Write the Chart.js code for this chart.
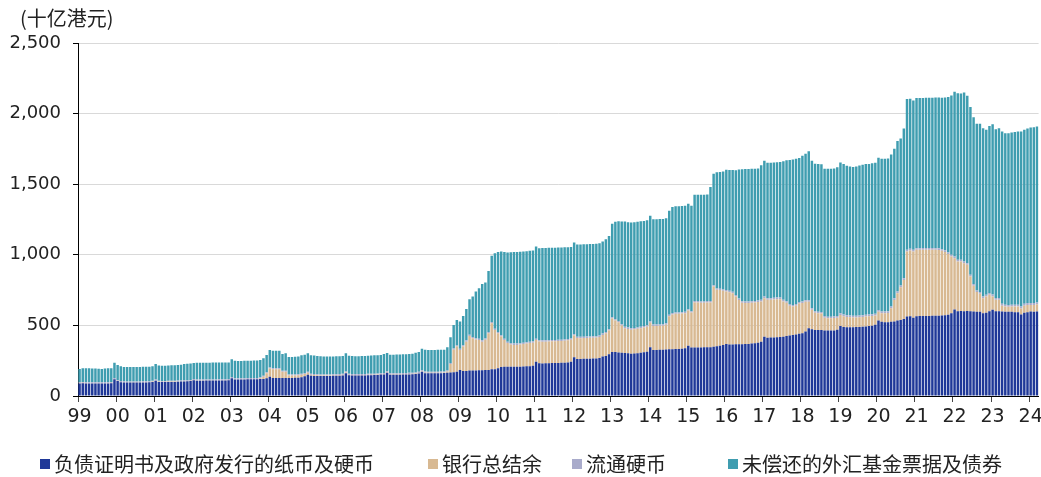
<!DOCTYPE html>
<html>
<head>
<meta charset="utf-8">
<script src="https://cdn.jsdelivr.net/npm/chart.js@4.4.1/dist/chart.umd.min.js"></script>
<style>
  body { margin: 0; background: #fff; }
  #wrap { position: relative; width: 1041px; height: 477px; }
  #unit { position: absolute; left: 20px; top: 3px; font: 20px "Noto Sans CJK SC"; color: #222; }
  #legend { position: absolute; left: 0; top: 449px; width: 1041px; height: 28px;
            font: 20px "Noto Sans CJK SC"; color: #222; }
  #legend .item { position: absolute; top: 0; display: flex; align-items: center; white-space: nowrap; }
  #legend .box { width: 10px; height: 10px; margin-right: 4px; }
</style>
</head>
<body>
<div id="wrap">
  <canvas id="chart1" width="1041" height="477"></canvas>
  <div id="unit">(十亿港元)</div>
  <div id="legend"></div>
</div>
<script>
// tick labels (one per year, Jan 1999 .. Mar 2024 monthly)
var yearLabels = ["99","00","01","02","03","04","05","06","07","08","09","10","11","12",
                  "13","14","15","16","17","18","19","20","21","22","23","24"];
var monthsLastYear = 3;

// 负债证明书及政府发行的纸币及硬币
var certs = [
  88, 90, 89, 88, 88, 88, 88, 88, 88, 89, 90, 118,
  106, 98, 96, 95, 95, 95, 95, 95, 96, 96, 97, 100,
  108, 100, 99, 99, 100, 100, 100, 101, 102, 103, 104, 106,
  112, 108, 108, 108, 109, 109, 109, 109, 110, 110, 110, 112,
  125, 117, 117, 117, 117, 118, 118, 118, 119, 120, 121, 126,
  137, 128, 128, 128, 128, 128, 128, 128, 129, 130, 132, 140,
  150, 143, 142, 142, 142, 142, 142, 142, 143, 143, 144, 146,
  162, 147, 146, 146, 146, 146, 146, 147, 147, 148, 149, 152,
  152, 165, 151, 151, 151, 151, 152, 152, 153, 154, 156, 160,
  172, 162, 161, 161, 161, 161, 162, 163, 165, 166, 168, 172,
  185, 177, 177, 180, 180, 181, 182, 183, 184, 184, 189, 189,
  196, 205, 207, 207, 207, 207, 208, 208, 209, 210, 211, 214,
  243, 232, 231, 232, 232, 233, 233, 234, 235, 236, 238, 242,
  274, 262, 262, 263, 263, 264, 265, 266, 270, 279, 284, 295,
  312, 311, 308, 306, 305, 302, 300, 301, 303, 306, 309, 314,
  345, 326, 326, 327, 328, 330, 331, 331, 332, 333, 335, 338,
  355, 343, 343, 344, 344, 345, 345, 346, 348, 352, 356, 361,
  368, 365, 365, 366, 366, 367, 368, 369, 371, 374, 378, 385,
  420, 413, 414, 415, 416, 417, 420, 425, 428, 432, 436, 440,
  444, 456, 479, 472, 468, 467, 467, 464, 463, 463, 464, 470,
  496, 488, 487, 487, 487, 488, 489, 491, 493, 495, 497, 505,
  534, 525, 522, 523, 525, 527, 534, 539, 545, 563, 565, 555,
  565, 567, 566, 566, 567, 568, 568, 569, 570, 572, 576, 586,
  612, 600, 602, 600, 602, 600, 598, 596, 596, 586, 590, 600,
  610, 600, 600, 598, 596, 596, 596, 594, 594, 577, 590, 593,
  598, 596, 598
];

// 银行总结余
var aggBalance = [
  3, 3, 3, 3, 3, 3, 3, 3, 3, 3, 3, 3,
  2, 2, 2, 2, 2, 2, 2, 2, 2, 2, 2, 2,
  2, 2, 2, 2, 2, 2, 2, 2, 2, 2, 2, 2,
  2, 2, 2, 2, 2, 2, 2, 2, 2, 2, 2, 2,
  3, 2, 2, 2, 2, 2, 2, 2, 2, 5, 15, 35,
  58, 62, 62, 62, 44, 44, 18, 17, 16, 17, 18, 15,
  14, 8, 6, 5, 4, 4, 4, 4, 4, 4, 4, 4,
  4, 3, 3, 3, 3, 3, 3, 3, 3, 3, 3, 3,
  3, 3, 3, 3, 3, 3, 3, 3, 3, 3, 3, 3,
  3, 3, 3, 3, 3, 3, 3, 3, 8, 60, 160, 178,
  141, 173, 208, 245, 229, 219, 215, 202, 215, 260, 326, 279,
  248, 216, 190, 168, 158, 155, 154, 157, 159, 162, 164, 164,
  154, 154, 154, 153, 154, 154, 155, 155, 155, 156, 157, 156,
  154, 148, 147, 147, 148, 148, 148, 148, 148, 153, 160, 168,
  236, 223, 214, 193, 175, 173, 170, 171, 173, 174, 176, 177,
  174, 170, 170, 170, 170, 175, 234, 247, 250, 249, 249, 248,
  250, 248, 319, 318, 316, 315, 317, 316, 427, 400, 394, 384,
  372, 370, 363, 339, 314, 293, 290, 289, 289, 288, 287, 285,
  273, 268, 267, 269, 270, 269, 250, 235, 212, 202, 204, 215,
  214, 212, 189, 138, 122, 119, 117, 91, 88, 88, 88, 85,
  78, 77, 73, 71, 69, 68, 69, 69, 70, 70, 70, 65,
  63, 61, 64, 65, 96, 153, 194, 231, 277, 460, 465, 468,
  470, 468, 470, 470, 469, 468, 467, 465, 458, 448, 429, 402,
  364, 353, 351, 341, 327, 247, 183, 140, 128, 107, 115, 117,
  95, 81, 81, 42, 38, 36, 38, 40, 40, 43, 50, 52,
  47, 49, 52
];

// 流通硬币
var coins = [
  6, 6, 6, 6, 6, 6, 6, 6, 6, 6, 6, 6,
  6, 6, 6, 6, 6, 6, 6, 6, 6, 6, 6, 6,
  6, 6, 6, 6, 6, 6, 6, 6, 6, 6, 6, 6,
  6, 6, 6, 6, 6, 6, 6, 6, 6, 6, 6, 6,
  7, 7, 7, 7, 7, 7, 7, 7, 7, 7, 7, 7,
  7, 7, 7, 7, 7, 7, 7, 7, 7, 7, 7, 7,
  7, 7, 7, 7, 7, 7, 7, 7, 7, 7, 7, 7,
  7, 7, 7, 7, 7, 7, 7, 7, 7, 7, 7, 7,
  8, 8, 8, 8, 8, 8, 8, 8, 8, 8, 8, 8,
  8, 8, 8, 8, 8, 8, 8, 8, 8, 8, 8, 8,
  9, 9, 9, 9, 9, 9, 9, 9, 9, 9, 9, 9,
  9, 9, 9, 9, 9, 9, 9, 9, 9, 9, 9, 9,
  9, 9, 9, 9, 9, 9, 9, 9, 9, 9, 9, 9,
  10, 10, 10, 10, 10, 10, 10, 10, 10, 10, 10, 10,
  10, 10, 10, 10, 10, 10, 10, 10, 10, 10, 10, 10,
  10, 10, 10, 10, 10, 10, 10, 10, 10, 10, 10, 10,
  10, 10, 10, 10, 10, 10, 10, 10, 10, 10, 10, 10,
  11, 11, 11, 11, 11, 11, 11, 11, 11, 11, 11, 11,
  11, 11, 11, 11, 11, 11, 11, 11, 11, 11, 11, 11,
  11, 11, 11, 11, 11, 11, 11, 11, 11, 11, 11, 11,
  12, 12, 12, 12, 12, 12, 12, 12, 12, 12, 12, 12,
  12, 12, 12, 12, 12, 12, 12, 12, 12, 12, 12, 12,
  12, 12, 12, 12, 12, 12, 12, 12, 12, 12, 12, 12,
  12, 12, 12, 12, 12, 12, 12, 12, 12, 12, 12, 12,
  13, 13, 13, 13, 13, 13, 13, 13, 13, 13, 13, 13,
  13, 13, 13
];

// 未偿还的外汇基金票据及债券
var efbn = [
  94, 98, 99, 99, 98, 97, 96, 95, 98, 98, 98, 109,
  105, 104, 102, 102, 102, 102, 103, 103, 103, 103, 103, 102,
  111, 108, 108, 108, 108, 109, 109, 110, 111, 115, 116, 116,
  114, 119, 119, 120, 119, 119, 120, 120, 119, 120, 120, 118,
  125, 123, 122, 122, 123, 123, 123, 124, 124, 123, 125, 122,
  124, 124, 124, 124, 119, 124, 124, 125, 126, 126, 131, 131,
  131, 130, 131, 129, 128, 127, 127, 127, 126, 127, 127, 127,
  130, 128, 127, 126, 126, 127, 128, 128, 129, 130, 130, 129,
  134, 129, 131, 131, 132, 132, 132, 133, 134, 135, 139, 141,
  152, 154, 154, 154, 154, 155, 154, 154, 164, 182, 167, 180,
  192, 208, 223, 251, 286, 331, 357, 400, 395, 433, 469, 534,
  566, 593, 613, 632, 644, 648, 649, 648, 647, 645, 644, 644,
  652, 652, 654, 655, 655, 654, 653, 653, 653, 652, 650, 649,
  649, 653, 654, 654, 654, 654, 654, 654, 654, 652, 657, 661,
  662, 690, 705, 727, 745, 745, 749, 749, 748, 747, 745, 743,
  747, 746, 746, 746, 746, 743, 737, 750, 751, 751, 751, 751,
  747, 747, 753, 753, 756, 756, 755, 808, 789, 822, 826, 835,
  851, 854, 861, 882, 913, 935, 938, 939, 938, 937, 936, 954,
  962, 960, 960, 959, 959, 960, 981, 998, 1021, 1030, 1029, 1019,
  1033, 1037, 1054, 1045, 1044, 1046, 1047, 1044, 1047, 1047, 1048, 1054,
  1068, 1066, 1059, 1056, 1053, 1058, 1063, 1066, 1068, 1066, 1069, 1070,
  1078, 1082, 1082, 1082, 1078, 1059, 1066, 1041, 1060, 1068, 1063, 1058,
  1063, 1063, 1063, 1064, 1064, 1065, 1067, 1068, 1073, 1082, 1101, 1128,
  1166, 1180, 1178, 1197, 1185, 1187, 1182, 1180, 1192, 1192, 1168, 1184,
  1207, 1196, 1203, 1220, 1214, 1216, 1219, 1223, 1226, 1240, 1232, 1237,
  1243, 1246, 1246
];

var seriesNames = ["负债证明书及政府发行的纸币及硬币", "银行总结余", "流通硬币", "未偿还的外汇基金票据及债券"];
var seriesColors = ["#1f3898", "#d8b992", "#a9abcb", "#3f9db0"];
var legendLefts = [40, 428, 572, 728];

// monthly category labels
var labels = [];
yearLabels.forEach(function (yr, k) {
  var n = (k === yearLabels.length - 1) ? monthsLastYear : 12;
  for (var m = 1; m <= n; m++) labels.push(yr + "-" + m);
});

var chart = new Chart(document.getElementById("chart1"), {
  type: "bar",
  data: {
    labels: labels,
    datasets: [certs, aggBalance, coins, efbn].map(function (d, i) {
      return {
        label: seriesNames[i],
        data: d,
        backgroundColor: seriesColors[i],
        borderWidth: 0,
        barPercentage: 0.78,
        categoryPercentage: 1.0
      };
    })
  },
  options: {
    responsive: false,
    animation: false,
    layout: { padding: { top: 43, right: 1, bottom: 51, left: 0 } },
    plugins: {
      legend: { display: false },
      tooltip: { enabled: false }
    },
    scales: {
      x: {
        stacked: true,
        afterFit: function (scale) { scale.height = 30; },
        border: { display: true, color: "#000", width: 1 },
        grid: {
          offset: true,
          drawOnChartArea: false,
          drawTicks: true,
          tickLength: 6,
          color: function (c) { return c.index % 12 === 0 ? "#444" : "rgba(0,0,0,0)"; },
          tickColor: function (c) { return c.index % 12 === 0 ? "#444" : "rgba(0,0,0,0)"; }
        },
        ticks: {
          autoSkip: false,
          maxRotation: 0,
          padding: 4,
          color: "#222",
          font: { family: "DejaVu Sans", size: 19 },
          callback: function (v, i) { return i % 12 === 0 ? yearLabels[i / 12] : ""; }
        }
      },
      y: {
        stacked: true,
        min: 0,
        max: 2500,
        afterFit: function (scale) { scale.width = 78; },
        border: { display: true, color: "#000", width: 1 },
        grid: { color: "#d9d9d9", tickColor: "#000", tickLength: 5 },
        ticks: {
          stepSize: 500,
          padding: 12,
          color: "#222",
          font: { family: "DejaVu Sans", size: 18 },
          callback: function (v) { return v.toLocaleString("en-US"); }
        }
      }
    }
  }
});

// html legend built from the datasets
var legendEl = document.getElementById("legend");
chart.data.datasets.forEach(function (ds, i) {
  var item = document.createElement("div");
  item.className = "item";
  item.style.left = legendLefts[i] + "px";
  var box = document.createElement("span");
  box.className = "box";
  box.style.background = ds.backgroundColor;
  item.appendChild(box);
  item.appendChild(document.createTextNode(ds.label));
  legendEl.appendChild(item);
});
</script>
</body>
</html>
